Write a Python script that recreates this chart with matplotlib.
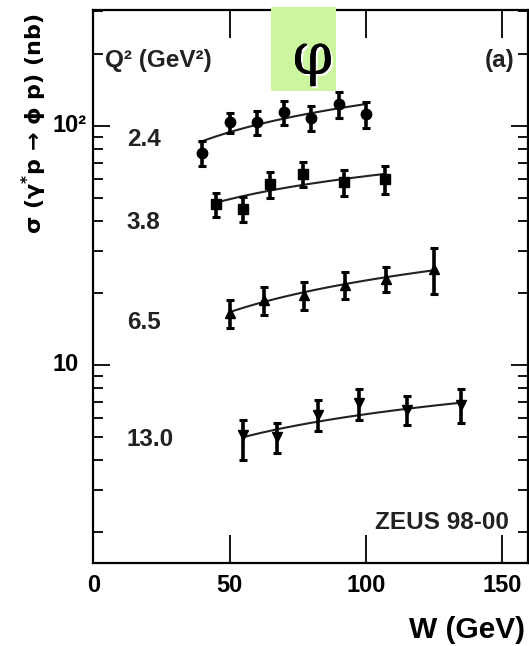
import numpy as np
import matplotlib
matplotlib.use("Agg")
import matplotlib.pyplot as plt
import matplotlib.patheffects as pe
from matplotlib.patches import Rectangle
from matplotlib.ticker import FixedLocator, LogLocator, NullFormatter

plt.rcParams['font.family'] = ['Liberation Sans', 'DejaVu Sans']
plt.rcParams['font.weight'] = 'bold'

# phi cross sections vs W, one set per Q^2 bin
W_24 = [40, 50, 60, 70, 80, 90, 100]
sig_24 = [77, 103, 103, 114, 108, 123, 112]
err_24 = [9, 10, 12, 13, 13, 15, 14]

W_38 = [45, 55, 65, 77, 92, 107]
sig_38 = [47, 45, 57, 63, 58, 60]
err_38 = [5.5, 5.5, 7, 7.5, 7, 8]

W_65 = [50, 62.5, 77.5, 92.5, 107.5, 125]
sig_65 = [16.4, 18.7, 19.6, 21.6, 22.9, 25.2]
err_65 = [2.2, 2.5, 2.6, 2.8, 2.8, 5.5]

W_130 = [55, 67.5, 82.5, 97.5, 115, 135]
sig_130 = [5.1, 5.0, 6.2, 6.9, 6.5, 6.8]
err_130_lo = [1.1, 0.7, 0.9, 1.0, 0.9, 1.1]
err_130_hi = [0.8, 0.7, 0.9, 1.0, 0.9, 1.1]

# power-law fits  sigma = A * (W/90)^delta  over [Wmin, Wmax]
fit_A = [118, 59.4, 21.5, 5.98]
fit_delta = [0.39, 0.32, 0.44, 0.37]
fit_range = [(39, 100), (45, 107), (50, 125), (55, 135)]

q2_labels = ['2.4', '3.8', '6.5', '13.0']
q2_ypos = [0.765, 0.616, 0.434, 0.222]

y_ticks = [10, 100]
y_ticklabels = ['10', '10²']

fig = plt.figure(figsize=(5.29, 6.46), dpi=100)
ax = fig.add_axes([0.1764, 0.129, 0.8216, 0.8555])

series = [
    (W_24, sig_24, err_24, 'o'),
    (W_38, sig_38, err_38, 's'),
    (W_65, sig_65, err_65, '^'),
    (W_130, sig_130, [err_130_lo, err_130_hi], 'v'),
]
for (w, s, e, m), A, d, (w0, w1) in zip(series, fit_A, fit_delta, fit_range):
    ax.errorbar(w, s, yerr=e, fmt=m, color='black', ms=7.5, elinewidth=2.6,
                capsize=3, capthick=2.2, zorder=3)
    wf = np.linspace(w0, w1, 100)
    ax.plot(wf, A * (wf / 90.0) ** d, color='#222222', lw=1.5, zorder=2)

ax.set_yscale('log')
ax.set_xlim(0, 159.5)
ax.set_ylim(1.49, 304)

# axis ticks: inward, on all four sides
ax.xaxis.set_major_locator(FixedLocator([0, 50, 100, 150]))
ax.tick_params(axis='x', which='major', direction='in', length=20, width=1.3,
               top=True, bottom=True, labelsize=17, pad=8)
for lab in ax.get_xticklabels():
    lab.set_fontweight('bold')

ax.yaxis.set_major_locator(FixedLocator(y_ticks))
ax.yaxis.set_minor_locator(LogLocator(base=10, subs=np.arange(2, 10)))
ax.yaxis.set_minor_formatter(NullFormatter())
ax.tick_params(axis='y', which='major', direction='in', length=12, width=1.3,
               left=True, right=True, labelleft=False)
ax.tick_params(axis='y', which='minor', direction='in', length=7, width=1.3,
               left=True, right=True)
# decade labels, left-aligned so the "10" lines up
for yv, lab in zip(y_ticks, y_ticklabels):
    ax.text(-0.093, yv, lab, transform=ax.get_yaxis_transform(), fontsize=17,
            fontweight='bold', ha='left', va='center')

for sp in ax.spines.values():
    sp.set_linewidth(1.6)

txt = dict(transform=ax.transAxes, fontweight='bold', va='center', color='#222222')
ax.text(0.027, 0.9095, 'Q² (GeV²)', fontsize=17.5, ha='left', **txt)
ax.text(0.97, 0.9095, '(a)', fontsize=17.5, ha='right', **txt)
ax.text(0.955, 0.072, 'ZEUS 98-00', fontsize=17.5, ha='right', **txt)
for lab, yp in zip(q2_labels, q2_ypos):
    ax.text(0.077, yp, lab, fontsize=17.5, ha='left', **txt)

fig.text(34 / 529, 1 - 13 / 646, 'σ (γ$^{*}$p → ϕ p) (nb)', rotation=90,
         family='DejaVu Sans', math_fontfamily='dejavusans',
         fontsize=16, fontweight='bold', va='top', ha='center')
fig.text(525 / 529, 1 - 630 / 646, 'W (GeV)', fontsize=21.5,
         fontweight='bold', va='center', ha='right')

# green tag with the meson symbol
box = Rectangle((271 / 529, 1 - 91 / 646), 65 / 529, 84 / 646,
                transform=fig.transFigure, facecolor='#ccf5a0',
                edgecolor='none', clip_on=False, zorder=10)
ax.add_patch(box)
ax.text(313 / 529, 1 - 58 / 646, 'φ', transform=fig.transFigure,
        family='DejaVu Serif', fontsize=42, fontweight='normal',
        ha='center', va='center', zorder=11,
        path_effects=[pe.withSimplePatchShadow(offset=(1.5, -1.5),
                                               shadow_rgbFace='white', alpha=1),
                      pe.Normal()])

fig.savefig('out.png', dpi=100)
